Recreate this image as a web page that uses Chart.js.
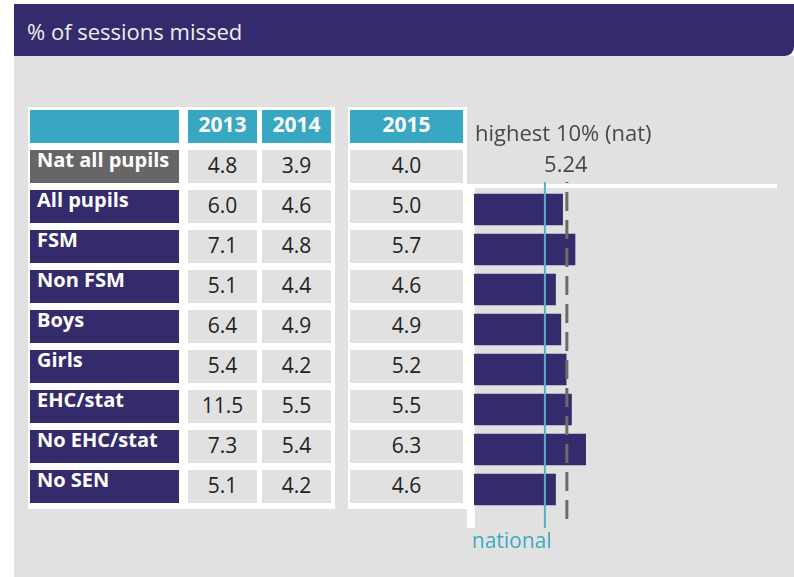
<!DOCTYPE html>
<html>
<head>
<meta charset="utf-8">
<script src="https://cdn.jsdelivr.net/npm/chart.js@4"></script>
<style>
  body { margin: 0; width: 794px; height: 577px; background: #fff; position: relative; overflow: hidden;
         font-family: "Open Sans", "Noto Sans", sans-serif; }
  .abs { position: absolute; }
  #head { left: 14px; top: 4px; width: 780px; height: 52px; background: #332b6b; border-bottom-right-radius: 9px; }
  #title { left: 13px; top: 0; line-height: 55px; font-size: 22px; color: #eeeeee; white-space: nowrap; }
  #bg { left: 14px; top: 56px; width: 780px; height: 521px; background: #e1e1e1; }
  .panel { background: #fff; }
  .hcell { background: #38a8c2; color: #fff; font-weight: bold; font-size: 21px; line-height: 28px; text-align: center; }
  .lcell { color: #fff; font-weight: bold; font-size: 20px; line-height: 20px; padding-left: 7px; box-sizing: border-box; white-space: nowrap; }
  .vcell { background: #e1e1e1; color: #222; font-size: 21px; line-height: 30px; text-align: center; }
  canvas { position: absolute; left: 460px; top: 110px; }
</style>
</head>
<body>
<div id="bg" class="abs"></div>
<div id="head" class="abs"><div id="title" class="abs">% of sessions missed</div></div>
<div class="abs panel" style="left:28px;top:107px;width:307px;height:402px"></div>
<div class="abs panel" style="left:348px;top:107px;width:119px;height:402px"></div>
<div class="abs panel" style="left:467px;top:184px;width:8px;height:344px"></div>
<div class="abs panel" style="left:469px;top:184px;width:308px;height:4px"></div>
<div id="table"></div>
<canvas id="c" width="334" height="450"></canvas>
<script>
const years = ['2013', '2014', '2015'];
const rowLabels = ['Nat all pupils', 'All pupils', 'FSM', 'Non FSM', 'Boys', 'Girls', 'EHC/stat', 'No EHC/stat', 'No SEN'];
const values2013 = ['4.8', '6.0', '7.1', '5.1', '6.4', '5.4', '11.5', '7.3', '5.1'];
const values2014 = ['3.9', '4.6', '4.8', '4.4', '4.9', '4.2', '5.5', '5.4', '4.2'];
const values2015 = [4.0, 5.0, 5.7, 4.6, 4.9, 5.2, 5.5, 6.3, 4.6];
const highest10 = 5.24;
const highestLabel = 'highest 10% (nat)';
const nationalLabel = 'national';

// table built as plain divs
const cols = [
  { left: 188, width: 69, vals: values2013 },
  { left: 262, width: 69, vals: values2014 },
  { left: 350, width: 113, vals: values2015.map(v => v.toFixed(1)) }
];
const table = document.getElementById('table');
function cell(cls, left, top, width, height, text, bg) {
  const d = document.createElement('div');
  d.className = 'abs ' + cls;
  d.style.cssText = `left:${left}px;top:${top}px;width:${width}px;height:${height}px;` + (bg ? `background:${bg};` : '');
  d.textContent = text;
  table.appendChild(d);
}
cell('hcell', 30, 110, 149, 33, '');
cols.forEach((c, i) => cell('hcell', c.left, 110, c.width, 33, years[i]));
rowLabels.forEach((lab, r) => {
  const top = 150 + r * 40;
  cell('lcell', 30, top, 149, 33, lab, r === 0 ? '#666666' : '#332b6b');
  cols.forEach(c => cell('vcell', c.left, top, c.width, 33, c.vals[r]));
});

const refLines = {
  id: 'refLines',
  afterDatasetsDraw(chart) {
    const { ctx, chartArea, scales } = chart;
    const y0 = chartArea.top - 7.5, y1 = chartArea.bottom + 18.5;
    const xn = scales.x.getPixelForValue(values2015[0]);
    const xh = scales.x.getPixelForValue(highest10);
    ctx.save();
    ctx.strokeStyle = '#4fb3c8';
    ctx.lineWidth = 2;
    ctx.beginPath(); ctx.moveTo(xn, y0); ctx.lineTo(xn, y1); ctx.stroke();
    ctx.strokeStyle = '#6b6b6b';
    ctx.lineWidth = 3;
    ctx.setLineDash([19, 9]);
    ctx.lineDashOffset = 18;
    ctx.beginPath(); ctx.moveTo(xh, y0); ctx.lineTo(xh, y1); ctx.stroke();
    ctx.setLineDash([]);
    ctx.font = '22px "Open Sans", sans-serif';
    ctx.fillStyle = '#484848';
    ctx.textAlign = 'left';
    ctx.textBaseline = 'alphabetic';
    ctx.fillText(highestLabel, chartArea.left + 1, 31);
    ctx.textAlign = 'center';
    ctx.fillText(highest10.toFixed(2), xh - 1, 62);
    ctx.font = '21px "Open Sans", sans-serif';
    ctx.fillStyle = '#3aa9c4';
    ctx.textAlign = 'left';
    ctx.fillText(nationalLabel, chartArea.left - 2, 438);
    ctx.restore();
  }
};

new Chart(document.getElementById('c'), {
  type: 'bar',
  data: {
    labels: rowLabels.slice(1),
    datasets: [{
      data: values2015.slice(1),
      backgroundColor: '#332b6b',
      borderWidth: 0,
      barThickness: 31
    }]
  },
  options: {
    indexAxis: 'y',
    responsive: false,
    animation: false,
    layout: { padding: { left: 14, right: 1, top: 79.5, bottom: 50.5 } },
    plugins: { legend: { display: false }, tooltip: { enabled: false } },
    scales: {
      x: { display: false, min: 0, max: 18 },
      y: { display: false }
    }
  },
  plugins: [refLines]
});
</script>
</body>
</html>
